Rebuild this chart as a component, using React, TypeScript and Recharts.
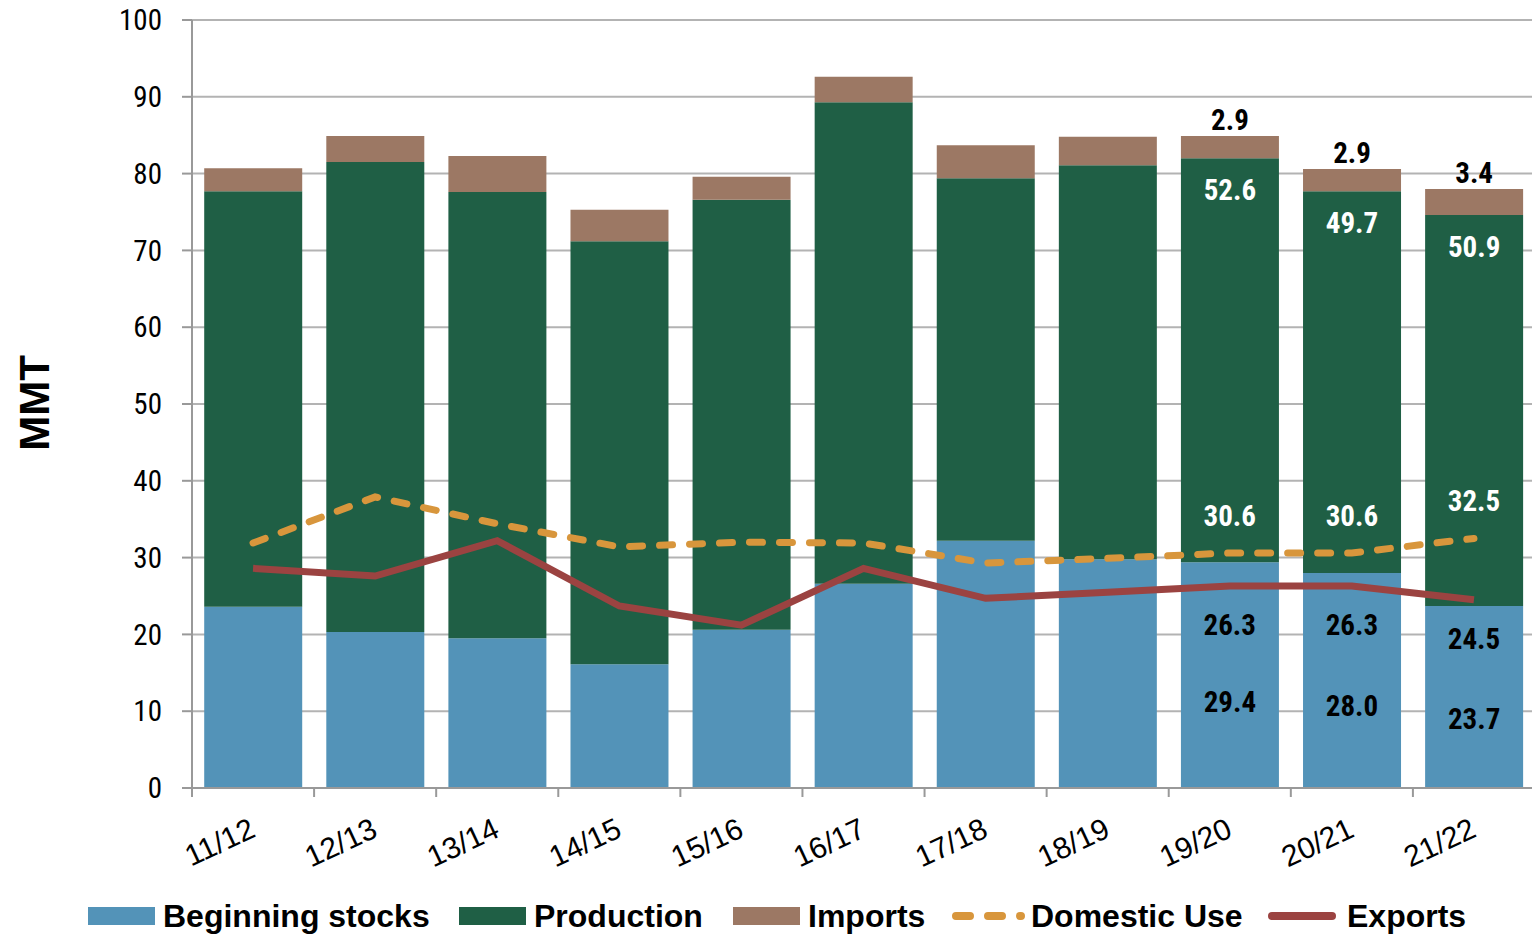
import React from 'react';
import {
  ComposedChart,
  Bar,
  Line,
  XAxis,
  YAxis,
  CartesianGrid,
  Legend,
  LabelList,
  Label,
} from 'recharts';

// ---------- data ----------
const categories = ['11/12', '12/13', '13/14', '14/15', '15/16', '16/17', '17/18', '18/19', '19/20', '20/21', '21/22'];
const beginningStocks = [23.6, 20.3, 19.5, 16.1, 20.6, 26.6, 32.2, 29.8, 29.4, 28.0, 23.7];
const production = [54.1, 61.2, 58.1, 55.1, 56.0, 62.7, 47.2, 51.3, 52.6, 49.7, 50.9];
const imports = [3.0, 3.4, 4.7, 4.1, 3.0, 3.3, 4.3, 3.7, 2.9, 2.9, 3.4];
const domesticUse = [31.9, 37.9, 34.4, 31.4, 32.0, 31.9, 29.3, 29.9, 30.6, 30.6, 32.5];
const exportsData = [28.6, 27.6, 32.2, 23.7, 21.2, 28.6, 24.7, 25.5, 26.3, 26.3, 24.5];
const yTicks = [0, 10, 20, 30, 40, 50, 60, 70, 80, 90, 100];
const labeledFrom = 8; // data labels shown for the last three seasons

const data = categories.map((cat, i) => ({
  cat,
  begin: beginningStocks[i],
  prod: production[i],
  imp: imports[i],
  dom: domesticUse[i],
  exp: exportsData[i],
}));

// ---------- styles ----------
const C_BLUE = '#5393B8';
const C_GREEN = '#1F5F45';
const C_BROWN = '#9C7864';
const C_ORANGE = '#D8963C';
const C_RED = '#9B4341';
const GRID = '#b3b3b3';
const AXIS = '#999999';
const COND = "'Roboto Condensed','Liberation Sans Narrow','DejaVu Sans Condensed','Arial Narrow',sans-serif";
const ARIAL = "'Liberation Sans', Arial, Helvetica, sans-serif";

const W = 1532;
const H = 936;

type Kind = 'aboveBar' | 'prodTop' | 'beginMid' | 'aboveLine' | 'belowLine';

const makeLabel = (kind: Kind, color: string) => (props: any) => {
  const { x, y, width, height, value, index } = props;
  if (index < labeledFrom || value == null) return null;
  let cx = Number(x);
  let cy = Number(y);
  const w = Number(width) || 0;
  const h = Number(height) || 0;
  if (kind === 'aboveBar') { cx += w / 2; cy -= 16; }
  else if (kind === 'prodTop') { cx += w / 2; cy += 32; }
  else if (kind === 'beginMid') { cx += w / 2; cy += h * 0.62; }
  else if (kind === 'aboveLine') { cy -= 37; }
  else if (kind === 'belowLine') { cy += 39; }
  return (
    <text
      x={cx}
      y={cy}
      textAnchor="middle"
      dominantBaseline="central"
      fill={color}
      fontFamily={COND}
      fontWeight="bold"
      fontSize={29}
      style={{ fontStretch: 'condensed' }}
    >
      {Number(value).toFixed(1)}
    </text>
  );
};

const XTick = (props: any) => {
  const { x, y, payload, width } = props;
  const axisW = typeof width === 'number' && width > 0 ? width : 1343;
  const band = axisW / categories.length;
  const bx = x - band / 2;
  const tx = x + 4;
  const ty = y + 48;
  return (
    <g>
      <line x1={bx} x2={bx} y1={y} y2={y + 9} stroke={AXIS} strokeWidth={2} />
      <text
        x={tx}
        y={ty}
        transform={`rotate(-25 ${tx} ${ty})`}
        textAnchor="end"
        fill="#000"
        fontFamily={ARIAL}
        fontSize={30}
      >
        {payload.value}
      </text>
    </g>
  );
};

const MMTLabel = () => (
  <text
    x={34}
    y={403}
    transform="rotate(-90 34 403)"
    textAnchor="middle"
    dominantBaseline="central"
    fontFamily={ARIAL}
    fontWeight="bold"
    fontSize={42}
    fill="#000"
  >
    MMT
  </text>
);

const legendItems = [
  { name: 'Beginning stocks', color: C_BLUE, type: 'rect', left: 88 },
  { name: 'Production', color: C_GREEN, type: 'rect', left: 459 },
  { name: 'Imports', color: C_BROWN, type: 'rect', left: 733 },
  { name: 'Domestic Use', color: C_ORANGE, type: 'dash', left: 948 },
  { name: 'Exports', color: C_RED, type: 'line', left: 1264 },
];

const LegendContent = () => (
  <div
    style={{
      position: 'relative',
      height: 40,
      width: W,
      fontFamily: ARIAL,
      fontWeight: 'bold',
      fontSize: 32,
      color: '#000',
      whiteSpace: 'nowrap',
    }}
  >
    {legendItems.map((it) => (
      <div
        key={it.name}
        style={{ position: 'absolute', left: it.left, top: 0, height: 40, display: 'flex', alignItems: 'center' }}
      >
        {it.type === 'rect' ? (
          <div style={{ width: 67, height: 18, background: it.color, marginRight: 8 }} />
        ) : (
          <svg width={80} height={20} style={{ marginRight: 3 }}>
            <line
              x1={8}
              x2={it.type === 'dash' ? 73 : 68}
              y1={10}
              y2={10}
              stroke={it.color}
              strokeWidth={8}
              strokeLinecap="round"
              strokeDasharray={it.type === 'dash' ? '14 18' : undefined}
            />
          </svg>
        )}
        <span>{it.name}</span>
      </div>
    ))}
  </div>
);

export default function App() {
  return (
    <div style={{ width: W, height: H, background: '#fff', overflow: 'hidden' }}>
      <style>{`html,body{margin:0;padding:0;overflow:hidden;background:#fff}`}</style>
      <ComposedChart
        width={W + 3}
        height={H}
        data={data}
        margin={{ top: 20, right: 0, left: 0, bottom: 0 }}
        barCategoryGap="10%"
      >
        <CartesianGrid vertical={false} stroke={GRID} strokeWidth={2} />
        <XAxis
          dataKey="cat"
          height={108}
          tickLine={false}
          tickSize={0}
          tickMargin={0}
          axisLine={{ stroke: AXIS, strokeWidth: 2 }}
          tick={<XTick />}
          interval={0}
        />
        <YAxis
          width={192}
          domain={[0, 100]}
          ticks={yTicks}
          interval={0}
          tickSize={10}
          tickMargin={20}
          axisLine={{ stroke: AXIS, strokeWidth: 2 }}
          tickLine={{ stroke: AXIS, strokeWidth: 2 }}
          tick={{ fontFamily: COND, fontSize: 29, fill: '#000', style: { fontStretch: 'condensed' } }}
          label={<Label content={<MMTLabel />} />}
        />
        <Legend verticalAlign="bottom" align="left" content={<LegendContent />} />
        <Bar dataKey="begin" name="Beginning stocks" stackId="s" fill={C_BLUE} isAnimationActive={false}>
          <LabelList dataKey="begin" content={makeLabel('beginMid', '#000')} />
        </Bar>
        <Bar dataKey="prod" name="Production" stackId="s" fill={C_GREEN} isAnimationActive={false}>
          <LabelList dataKey="prod" content={makeLabel('prodTop', '#fff')} />
        </Bar>
        <Bar dataKey="imp" name="Imports" stackId="s" fill={C_BROWN} isAnimationActive={false}>
          <LabelList dataKey="imp" content={makeLabel('aboveBar', '#000')} />
        </Bar>
        <Line
          dataKey="dom"
          name="Domestic Use"
          stroke={C_ORANGE}
          strokeWidth={7}
          strokeDasharray="13 17"
          strokeLinecap="round"
          dot={false}
          activeDot={false}
          type="linear"
          isAnimationActive={false}
        >
          <LabelList dataKey="dom" content={makeLabel('aboveLine', '#fff')} />
        </Line>
        <Line
          dataKey="exp"
          name="Exports"
          stroke={C_RED}
          strokeWidth={7}
          dot={false}
          activeDot={false}
          type="linear"
          isAnimationActive={false}
        >
          <LabelList dataKey="exp" content={makeLabel('belowLine', '#000')} />
        </Line>
      </ComposedChart>
    </div>
  );
}
